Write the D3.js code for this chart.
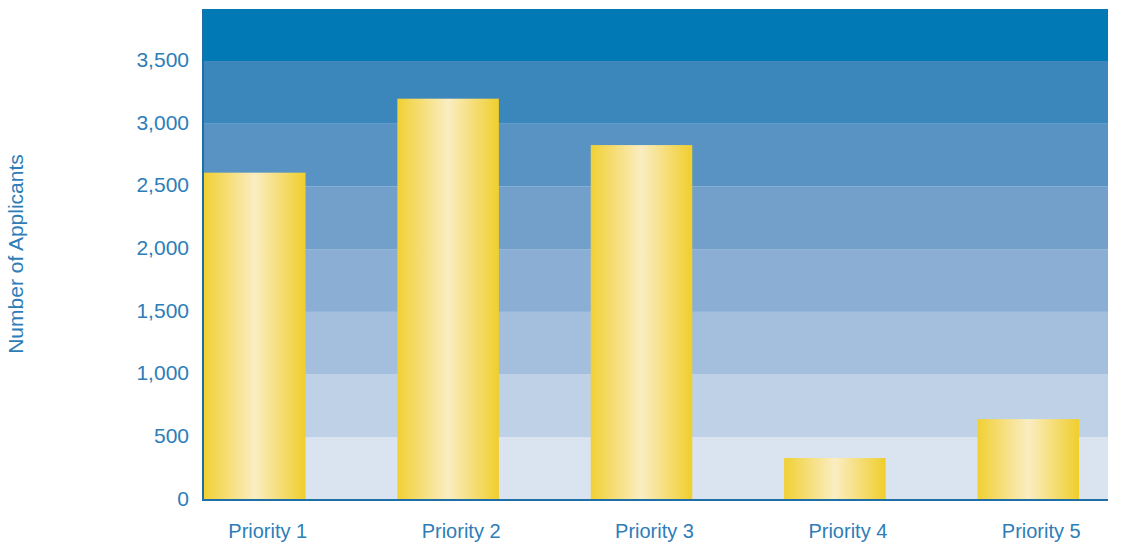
<!DOCTYPE html>
<html>
<head>
<meta charset="utf-8">
<script src="https://cdn.jsdelivr.net/npm/d3@7"></script>
<style>
  body { margin: 0; background: #fff; }
  svg text { font-family: "Liberation Sans", Arial, sans-serif; fill: #2d7db8; }
</style>
</head>
<body>
<div id="chart"></div>
<script>
var categories = ["Priority 1", "Priority 2", "Priority 3", "Priority 4", "Priority 5"];
var applicants = [2610, 3200, 2830, 335, 645];
var yTicks = [0, 500, 1000, 1500, 2000, 2500, 3000, 3500];
var bandColors = ["#dae4f0", "#bfd1e6", "#a3bfdd", "#8aaed4", "#72a0cb", "#5893c3", "#3b86bb", "#0079b4"];
var yTop = 3915;

var width = 1121, height = 547;
// note: "top" is taken by window.top, so plot edges get their own names
var plotLeft = 203, plotRight = 1108, plotTop = 9, plotBottom = 500;

var svg = d3.select("#chart")
  .append("svg")
  .attr("width", width)
  .attr("height", height);

var y = d3.scaleLinear().domain([0, yTop]).range([plotBottom, plotTop]);
var x = d3.scaleBand().domain(categories)
  .range([204, 1079])
  .paddingInner(0.475)
  .paddingOuter(0);

// background stripes, one per 500 step
var bands = yTicks.map(function(t, i) {
  return { lo: t, hi: i < yTicks.length - 1 ? yTicks[i + 1] : yTop, color: bandColors[i] };
});
svg.selectAll(".band")
  .data(bands)
  .enter().append("rect")
  .attr("class", "band")
  .attr("x", plotLeft)
  .attr("width", plotRight - plotLeft)
  .attr("y", function(d) { return y(d.hi); })
  .attr("height", function(d) { return y(d.lo) - y(d.hi); })
  .attr("fill", function(d) { return d.color; });

// gold gradient for bars
var grad = svg.append("defs").append("linearGradient")
  .attr("id", "gold")
  .attr("x1", "0%").attr("x2", "100%").attr("y1", "0%").attr("y2", "0%");
grad.append("stop").attr("offset", "0%").attr("stop-color", "#f1d033");
grad.append("stop").attr("offset", "50%").attr("stop-color", "#faedc2");
grad.append("stop").attr("offset", "100%").attr("stop-color", "#f0ce2c");

svg.selectAll(".bar")
  .data(applicants)
  .enter().append("rect")
  .attr("class", "bar")
  .attr("x", function(d, i) { return x(categories[i]); })
  .attr("width", x.bandwidth())
  .attr("y", function(d) { return y(d); })
  .attr("height", function(d) { return plotBottom - y(d); })
  .attr("fill", "url(#gold)");

// axis lines
svg.append("line")
  .attr("x1", plotLeft).attr("x2", plotLeft)
  .attr("y1", plotTop).attr("y2", plotBottom + 1)
  .attr("stroke", "#1e6fa8").attr("stroke-width", 2);
svg.append("line")
  .attr("x1", plotLeft).attr("x2", plotRight)
  .attr("y1", plotBottom).attr("y2", plotBottom)
  .attr("stroke", "#1e6fa8").attr("stroke-width", 2);

// y tick labels
var yAxis = svg.append("g")
  .attr("transform", "translate(" + (plotLeft - 14) + ",-2)")
  .call(d3.axisLeft(y).tickValues(yTicks).tickSize(0).tickPadding(0).tickFormat(d3.format(",")));
yAxis.select(".domain").remove();
yAxis.selectAll("text")
  .style("font-size", "21px")
  .attr("dy", "0.35em");

// x labels
var xAxis = svg.append("g")
  .attr("transform", "translate(13,524)")
  .call(d3.axisBottom(x).tickSize(0).tickPadding(0));
xAxis.select(".domain").remove();
xAxis.selectAll("text")
  .style("font-size", "20px");

svg.append("text")
  .attr("transform", "translate(23,254) rotate(-90)")
  .attr("text-anchor", "middle")
  .style("font-size", "21px")
  .text("Number of Applicants");
</script>
</body>
</html>
